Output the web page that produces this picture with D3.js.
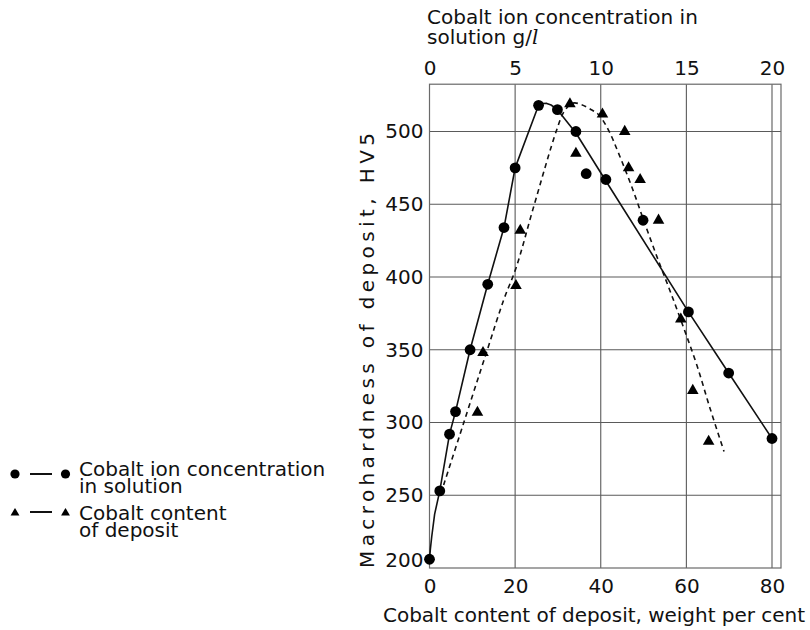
<!DOCTYPE html>
<html>
<head>
<meta charset="utf-8">
<script src="https://cdn.jsdelivr.net/npm/d3@7/dist/d3.min.js"></script>
<style>
  html, body { margin: 0; padding: 0; background: #fff; }
  svg text { font-family: "DejaVu Sans", Arial, sans-serif; fill: #111; }
</style>
</head>
<body>
<svg id="chart" width="810" height="630"></svg>
<script>
// Hardness vs cobalt ion concentration in the bath (g/l, top axis)
const ionConc = [0, 0.6, 1.17, 1.52, 2.37, 3.4, 4.35, 5.0, 6.37, 7.47, 8.55, 9.15, 10.3, 12.47, 15.12, 17.47, 20.0];
const hardnessIon = [206, 253, 292, 307.5, 350, 395, 434, 475, 518, 515, 500, 471, 467, 439, 376, 334, 289];

// Hardness vs cobalt content of the deposit (wt %, bottom axis)
const depositCo = [11.2, 12.5, 20.2, 21.2, 32.8, 34.2, 40.4, 45.6, 46.5, 49.2, 53.5, 58.7, 61.5, 65.2];
const hardnessDeposit = [308, 349, 395, 433, 520, 486, 513, 501, 476, 468, 440, 372, 323, 288];

// Faired curves drawn through each series
const ionCurveConc = [0, 0.05, 0.13, 0.3, 0.6, 1.17, 1.52, 2.37, 3.4, 4.35, 5.0, 6.37, 6.6, 6.85, 7.1, 7.47, 8.55, 10.3, 15.12, 17.47, 20.0];
const ionCurveHv = [206, 213, 221.5, 237, 253, 292, 307.5, 350, 395, 434, 475, 518, 519.2, 519.3, 518.2, 515, 499, 466, 376, 334, 289];
const depCurveWt = [3.3, 7.9, 13.4, 17.3, 20.3, 24.3, 29.7, 31.5, 33.5, 35.5, 37.5, 39.5, 41.8, 44.1, 47.5, 50.5, 53.5, 56.5, 59.5, 62.5, 65.5, 68.8];
const depCurveHv = [257, 299, 349, 384, 407, 448, 501, 514, 519.5, 518.5, 515.5, 511.5, 501, 485.5, 460, 435, 411, 388, 364, 339, 310, 280];

// Axis ticks
const bottomTicks = [0, 20, 40, 60, 80];
const topTicks = [0, 5, 10, 15, 20];
const yTicks = [200, 250, 300, 350, 400, 450, 500];

// Labels
const topTitle = ["Cobalt ion concentration in", "solution g/"];
const bottomTitle = "Cobalt content of deposit, weight per cent";
const yTitle = "Macrohardness of deposit, HV5";
const legendIon = ["Cobalt ion concentration", "in solution"];
const legendDep = ["Cobalt content", "of deposit"];

const svg = d3.select("#chart");
const FONT = 20;
const FAMILY = "DejaVu Sans, Arial, sans-serif";

// Scales: bottom (wt %) and top (g/l) share the same pixel span
const xB = d3.scaleLinear().domain([0, 80]).range([429.5, 772]);
const xT = d3.scaleLinear().domain([0, 20]).range([429.5, 772]);
const y = d3.scaleLinear().domain([200, 500]).range([568, 131.5]);
const frameRight = xB(82.1);
const frameTop = y(532.5);

// Grid lines
const grid = svg.append("g").attr("stroke", "#5a5a5a").attr("stroke-width", 1.1);
yTicks.filter(v => v > 200).forEach(v => {
  grid.append("line").attr("x1", xB(0)).attr("x2", frameRight).attr("y1", y(v)).attr("y2", y(v));
});
bottomTicks.filter(v => v > 0).forEach(v => {
  grid.append("line").attr("x1", xB(v)).attr("x2", xB(v)).attr("y1", frameTop).attr("y2", y(200));
});
// Frame
svg.append("rect")
  .attr("x", xB(0)).attr("y", frameTop)
  .attr("width", frameRight - xB(0)).attr("height", y(200) - frameTop)
  .attr("fill", "none").attr("stroke", "#6a6a6a").attr("stroke-width", 1.2);

// Axes (labels only)
function styleAxis(g) {
  g.select(".domain").remove();
  g.selectAll(".tick line").remove();
  g.selectAll("text").attr("font-size", FONT).attr("font-family", FAMILY).attr("fill", "#111");
}
svg.append("g").attr("transform", `translate(0,${frameTop})`)
  .call(d3.axisTop(xT).tickValues(topTicks).tickSize(0).tickPadding(9).tickFormat(d3.format("d")))
  .call(styleAxis);
svg.append("g").attr("transform", `translate(0,${y(200)})`)
  .call(d3.axisBottom(xB).tickValues(bottomTicks).tickSize(0).tickPadding(10.5).tickFormat(d3.format("d")))
  .call(styleAxis);
const yAxisG = svg.append("g").attr("transform", `translate(${xB(0)},0)`)
  .call(d3.axisLeft(y).tickValues(yTicks).tickSize(0).tickPadding(6).tickFormat(d3.format("d")))
  .call(styleAxis);
yAxisG.selectAll(".tick text").filter(d => d === 200).attr("dy", "-0.08em");

// Curves
const ionLine = d3.line().x(i => xT(ionCurveConc[i])).y(i => y(ionCurveHv[i])).curve(d3.curveLinear);
svg.append("path").attr("d", ionLine(d3.range(ionCurveConc.length)))
  .attr("fill", "none").attr("stroke", "#111").attr("stroke-width", 1.6).attr("stroke-linejoin", "round");
const depLine = d3.line().x(i => xB(depCurveWt[i])).y(i => y(depCurveHv[i])).curve(d3.curveCatmullRom.alpha(0.5));
svg.append("path").attr("d", depLine(d3.range(depCurveWt.length)))
  .attr("fill", "none").attr("stroke", "#111").attr("stroke-width", 1.6).attr("stroke-dasharray", "5,4");

// Markers
svg.append("g").selectAll("circle").data(d3.range(ionConc.length)).join("circle")
  .attr("cx", i => xT(ionConc[i])).attr("cy", i => y(hardnessIon[i])).attr("r", 5.4).attr("fill", "#000");
const tri = d3.symbol().type(d3.symbolTriangle).size(58);
svg.append("g").selectAll("path").data(d3.range(depositCo.length)).join("path")
  .attr("d", tri).attr("fill", "#000")
  .attr("transform", i => `translate(${xB(depositCo[i])},${y(hardnessDeposit[i]) + 1.5})`);

// Titles
svg.append("text").attr("x", 427).attr("y", 23.5).attr("font-size", FONT).text(topTitle[0]);
const tt2 = svg.append("text").attr("x", 427).attr("y", 44).attr("font-size", FONT);
tt2.append("tspan").text(topTitle[1]);
tt2.append("tspan").attr("font-style", "italic").attr("font-family", "DejaVu Serif, serif").text("l");

svg.append("text").attr("x", 383).attr("y", 621.5).attr("font-size", FONT)
  .attr("textLength", 422).attr("lengthAdjust", "spacing").text(bottomTitle);

svg.append("text").attr("transform", "translate(374,568) rotate(-90)")
  .attr("font-size", FONT).attr("textLength", 435).attr("lengthAdjust", "spacing").text(yTitle);

// Legend
const lg = svg.append("g");
const rowIonY = 474, rowDepY = 512;
lg.append("circle").attr("cx", 15).attr("cy", rowIonY).attr("r", 4.6).attr("fill", "#000");
lg.append("circle").attr("cx", 65.5).attr("cy", rowIonY).attr("r", 4.6).attr("fill", "#000");
lg.append("line").attr("x1", 30).attr("x2", 52).attr("y1", rowIonY).attr("y2", rowIonY).attr("stroke", "#111").attr("stroke-width", 2);
const triSmall = d3.symbol().type(d3.symbolTriangle).size(34);
lg.append("path").attr("d", triSmall).attr("transform", `translate(15,${rowDepY + 1})`).attr("fill", "#000");
lg.append("path").attr("d", triSmall).attr("transform", `translate(65.5,${rowDepY + 1})`).attr("fill", "#000");
lg.append("line").attr("x1", 30).attr("x2", 52).attr("y1", rowDepY).attr("y2", rowDepY).attr("stroke", "#111").attr("stroke-width", 2);

lg.append("text").attr("x", 79).attr("y", 475.7).attr("font-size", FONT).text(legendIon[0]);
lg.append("text").attr("x", 79).attr("y", 492.7).attr("font-size", FONT).text(legendIon[1]);
lg.append("text").attr("x", 79).attr("y", 519.5).attr("font-size", FONT).text(legendDep[0]);
lg.append("text").attr("x", 79).attr("y", 536.5).attr("font-size", FONT).text(legendDep[1]);
</script>
</body>
</html>
